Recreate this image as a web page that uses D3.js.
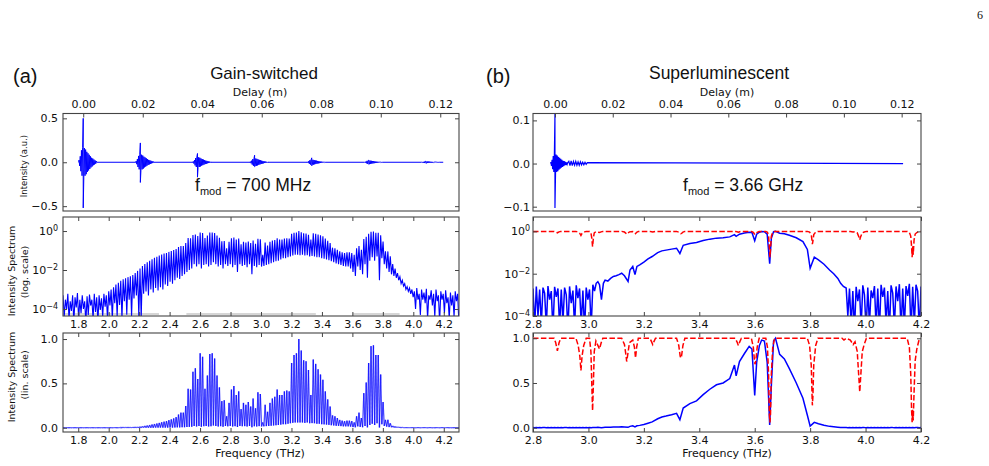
<!DOCTYPE html>
<html>
<head>
<meta charset="utf-8">
<script src="https://cdn.jsdelivr.net/npm/d3@7"></script>
<style>
  body { margin: 0; background: #fff; }
  svg { display: block; }
  text { font-family: "DejaVu Sans", sans-serif; fill: #111; }
  .arial { font-family: "Liberation Sans", Arial, sans-serif; }
</style>
</head>
<body>
<svg id="fig" width="989" height="466"></svg>
<script>
// ---------------- data ----------------

// ticks
const freqTicksA = [1.8, 2.0, 2.2, 2.4, 2.6, 2.8, 3.0, 3.2, 3.4, 3.6, 3.8, 4.0, 4.2];
const freqTicksB = [2.8, 3.0, 3.2, 3.4, 3.6, 3.8, 4.0, 4.2];
const delayTicks = [0, 0.02, 0.04, 0.06, 0.08, 0.10, 0.12];
const logTicks = [1, 1e-2, 1e-4];
const linTicks = [0, 0.5, 1.0];
const timeTicksA = [-0.5, 0, 0.5];
const timeTicksB = [-0.1, 0, 0.1];

// (a) gain-switched comb: one line every combStep THz from combStart
const combStart = 1.70, combStep = 0.0158;
const combPeak = [
  5e-4, 3e-4, 6e-4, 2.5e-4, 5e-4, 4e-4, 6.5e-4, 3e-4, 5e-4, 2.5e-4,
  4.5e-4, 5.5e-4, 3e-4, 6e-4, 4e-4, 5e-4, 3.5e-4, 6e-4, 5e-4, 8e-4,
  1e-3, 1.3e-3, 1.8e-3, 2.2e-3, 2.8e-3, 3.3e-3, 3.8e-3, 4.3e-3, 4.8e-3, 5.5e-3,
  7e-3, 9e-3, 0.012, 0.016, 0.02, 0.025, 0.03, 0.036, 0.042, 0.048,
  0.055, 0.062, 0.07, 0.075, 0.085, 0.095, 0.106, 0.12, 0.15,
  0.17, 0.17, 0.245, 0.44, 0.43, 0.63, 0.67, 0.55, 0.84, 0.80,
  0.44, 0.59, 0.83, 0.84, 0.78, 0.59, 0.455, 0.30, 0.31, 0.13,
  0.28, 0.43, 0.47, 0.37, 0.41, 0.21, 0.28, 0.26, 0.29, 0.24,
  0.33, 0.22, 0.40, 0.38, 0.06, 0.26, 0.18, 0.28, 0.33, 0.35,
  0.43, 0.37, 0.37, 0.41, 0.42, 0.41, 0.73, 0.82, 0.84, 1.0,
  0.87, 0.76, 0.75, 0.65, 0.37, 0.77, 0.72, 0.66, 0.60, 0.54,
  0.41, 0.32, 0.24, 0.14, 0.13, 0.11, 0.09, 0.08, 0.075, 0.08,
  0.08, 0.075, 0.06, 0.13, 0.17, 0.11, 0.39, 0.51, 0.73, 0.92,
  0.93, 0.82, 0.82, 0.60, 0.29, 0.09, 0.09, 0.05, 0.02,
  0.012, 0.007, 0.0045, 0.003, 0.002, 0.0014, 0.0012, 1e-3,
  8e-4, 1.2e-3, 6e-4, 1e-3, 7e-4, 1.1e-3, 5e-4, 9e-4, 6e-4, 1e-3,
  5e-4, 8e-4, 6e-4, 9e-4, 4e-4, 7e-4, 5e-4, 8e-4, 6e-4
];
// minima between neighbouring comb lines
const combDip = [
  4e-5, 1e-4, 3e-5, 8e-5, 2e-5, 1.2e-4, 3e-5, 6e-5, 1e-4, 2e-5,
  5e-5, 1.5e-4, 3e-5, 7e-5, 2e-5, 9e-5, 4e-5, 1.3e-4, 3e-5,
  1.5e-4, 3e-5, 2e-4, 4e-5, 1.6e-4, 3e-5, 2.5e-4, 5e-5, 3e-4, 4e-5, 3.5e-4,
  5e-4, 4e-5, 3e-5, 6e-4, 8e-4, 5e-4, 1e-3, 7e-4, 1.2e-3, 9e-4,
  1.3e-3, 1e-3, 1.8e-3, 1.5e-3, 2.5e-3, 2e-3, 3e-3, 4e-3, 3.5e-3,
  5e-3, 6e-3, 8e-3, 0.01, 0.012, 0.02, 0.015, 0.02, 0.012, 0.018,
  0.02, 0.015, 0.018, 0.025, 0.02, 0.015, 0.018, 0.012, 0.02, 0.016,
  0.02, 0.014, 0.018, 0.008, 0.02, 0.016, 0.018, 0.014, 0.02, 0.006,
  0.016, 0.014, 0.018, 0.015,
  0.016, 0.018, 0.02, 0.022, 0.025, 0.028, 0.03, 0.035, 0.04, 0.04,
  0.045, 0.05, 0.055, 0.06, 0.06, 0.058,
  0.06, 0.055, 0.058, 0.05, 0.052, 0.05, 0.045, 0.045, 0.04, 0.038,
  0.035, 0.032, 0.028,
  0.025, 0.022, 0.02, 0.018, 0.016, 0.015, 0.015, 0.012, 0.008, 0.005,
  0.015, 0.01,
  0.006, 0.02, 0.004, 0.03, 0.045, 0.03, 0.05, 0.003, 0.04, 0.02,
  0.012, 0.008, 0.006,
  0.005, 0.004, 0.003, 0.002, 0.0015, 0.001, 8e-4, 6e-4, 4e-4,
  1e-4, 3e-4, 5e-5, 3e-4, 2e-4, 3e-5, 3e-4, 1.5e-4, 4e-5, 2.5e-4,
  2e-5, 3e-4, 6e-5, 2e-4, 3e-5, 1.5e-4, 4e-5, 2.5e-4, 2e-5
];
// faint grey traces sitting on the floor of the log panel (THz ranges)
const gsFloor = [[1.70, 2.33], [2.51, 3.36], [3.60, 3.91]];

// (a) interferogram echoes
const gsEchoDelay = [0, 0.0192, 0.0384, 0.0576, 0.0768, 0.0960, 0.1152];
const gsEchoMax = [0.50, 0.22, 0.10, 0.08, 0.05, 0.025, 0.012];
const gsEchoMin = [-0.52, -0.23, -0.17, -0.05, -0.04, -0.025, -0.012];
const gsEchoBody = [0.17, 0.09, 0.06, 0.045, 0.03, 0.02, 0.01];
const gsTraceEnd = 0.121;
// shared echo shape (relative), sample offsets in m
const echoOffset = [-0.0014, -0.0012, -0.0010, -0.0008, -0.0006, -0.0004, -0.0002, 0,
  0.0002, 0.0004, 0.0006, 0.0008, 0.0010, 0.0012, 0.0014, 0.0016, 0.0018, 0.0020,
  0.0022, 0.0024, 0.0026, 0.0028, 0.0030, 0.0032, 0.0034, 0.0036, 0.0038, 0.0040,
  0.0042, 0.0044];
const echoShape = [0.15, -0.25, 0.4, -0.6, 0.8, -0.9, 1.0, 0, -1.0, 0.95, -0.9, 0.85,
  -0.8, 0.7, -0.65, 0.6, -0.55, 0.5, -0.45, 0.4, -0.35, 0.3, -0.28, 0.25, -0.2, 0.18,
  -0.15, 0.12, -0.1, 0.08];

// (b) superluminescent interferogram
const slMax = 0.115, slMin = -0.103, slBody = 0.022, slTraceEnd = 0.1205;
const slRingDelay = [0.0048, 0.0052, 0.0056, 0.0060, 0.0064, 0.0068, 0.0072, 0.0076,
  0.0080, 0.0084, 0.0088, 0.0092, 0.0096, 0.0100, 0.0104, 0.0108, 0.0112];
const slRingVal = [0.005, -0.005, 0.006, -0.005, 0.005, -0.004, 0.005, -0.004, 0.004,
  -0.004, 0.004, -0.003, 0.003, -0.003, 0.003, -0.002, 0.002];

// (b) spectrum (blue)
const slFreq = [
  2.800, 2.806, 2.812, 2.818, 2.824, 2.830, 2.836, 2.842, 2.848, 2.854,
  2.860, 2.866, 2.872, 2.878, 2.884, 2.890, 2.896, 2.902, 2.908, 2.914,
  2.920, 2.926, 2.932, 2.938, 2.944, 2.950, 2.956, 2.962, 2.968, 2.974,
  2.980, 2.986, 2.992, 2.998, 3.004, 3.010, 3.016, 3.022, 3.028, 3.034,
  3.040, 3.047, 3.054, 3.060, 3.070, 3.080, 3.090, 3.100, 3.110, 3.120,
  3.130, 3.143, 3.150, 3.160, 3.168, 3.175, 3.185, 3.200, 3.215, 3.230,
  3.250, 3.265, 3.280, 3.300, 3.318, 3.330, 3.342, 3.366, 3.390, 3.414,
  3.438, 3.462, 3.486, 3.510, 3.527, 3.533, 3.545, 3.563, 3.580, 3.590,
  3.600, 3.607, 3.617, 3.625, 3.635, 3.645, 3.654, 3.660, 3.668, 3.675,
  3.690, 3.707, 3.725, 3.750, 3.774, 3.790, 3.800, 3.815, 3.830, 3.850,
  3.870, 3.885, 3.900, 3.910, 3.920, 3.930,
  3.936, 3.942, 3.948, 3.954, 3.960, 3.966, 3.972, 3.978, 3.984, 3.990,
  3.996, 4.002, 4.008, 4.014, 4.020, 4.026, 4.032, 4.038, 4.044, 4.050,
  4.056, 4.062, 4.068, 4.074, 4.080, 4.086, 4.092, 4.098, 4.104, 4.110,
  4.116, 4.122, 4.128, 4.134, 4.140, 4.146, 4.152, 4.158, 4.164, 4.170,
  4.176, 4.182, 4.188, 4.194, 4.200
];
const slSpec = [
  2e-3, 3e-5, 2.5e-3, 1e-4, 1.8e-3, 4e-5, 2.2e-3, 1.2e-3, 3e-5, 2.6e-3,
  6e-4, 1.5e-3, 2e-5, 2.4e-3, 8e-4, 2e-3, 3e-5, 1.8e-3, 5e-5, 2.2e-3,
  1e-3, 2e-5, 2.5e-3, 4e-4, 1.6e-3, 3e-5, 2.8e-3, 7e-4, 2e-3, 4e-5,
  1.6e-3, 2e-5, 2.2e-3, 6e-4, 1.8e-3, 3e-5, 3e-3, 1.5e-3, 3.5e-3, 4.2e-3,
  3e-3, 6e-4, 3.5e-3, 5e-3, 4.5e-3, 6e-3, 7.4e-3, 8e-3, 9e-3, 1.05e-2,
  8e-3, 4.3e-3, 1.5e-2, 2.2e-2, 9e-3, 2.2e-2, 2.6e-2, 3.5e-2, 5e-2, 6.5e-2,
  0.10, 0.12, 0.13, 0.145, 0.16, 0.09, 0.22, 0.27, 0.30, 0.37,
  0.43, 0.48, 0.50, 0.55, 0.70, 0.58, 0.74, 0.83, 0.91, 0.88,
  0.36, 0.73, 0.92, 0.98, 0.97, 0.73, 0.03, 0.47, 0.97, 1.0,
  0.82, 0.77, 0.66, 0.50, 0.33, 0.14, 0.018, 0.06, 0.045, 0.028,
  0.015, 0.01, 0.006, 0.0035, 0.0025, 0.0021,
  1e-4, 2e-3, 3e-5, 1.5e-3, 2e-5, 2.4e-3, 5e-4, 1.8e-3, 3e-5, 2.8e-3,
  1e-3, 2e-5, 2.2e-3, 4e-5, 1.6e-3, 7e-4, 2.6e-3, 3e-5, 2e-3, 2e-5,
  3e-3, 8e-4, 2.2e-3, 4e-5, 1.5e-3, 2e-5, 2.8e-3, 1.2e-3, 3e-5, 2.5e-3,
  5e-4, 3.2e-3, 2e-5, 2e-3, 3e-5, 2.6e-3, 9e-4, 3.3e-3, 2e-5, 2.4e-3,
  4e-5, 3e-3, 1.5e-3, 2e-5, 2.5e-3
];

// (b) transmission (red dashed)
const trFreq = [
  2.800, 2.876, 2.882, 2.888, 2.894, 2.900,
  2.955, 2.963, 2.969, 2.973, 2.977, 2.983, 2.992,
  3.004, 3.009, 3.012, 3.015, 3.018, 3.021, 3.027, 3.034, 3.040, 3.046, 3.052,
  3.120, 3.130, 3.136, 3.138, 3.141, 3.148, 3.160, 3.166, 3.170, 3.174, 3.180,
  3.222, 3.228, 3.232, 3.236, 3.242,
  3.318, 3.326, 3.331, 3.333, 3.336, 3.341, 3.348,
  3.530, 3.536, 3.541, 3.546, 3.552,
  3.588, 3.595, 3.599, 3.601, 3.604, 3.609, 3.616,
  3.640, 3.646, 3.650, 3.653, 3.655, 3.657, 3.660, 3.665, 3.672,
  3.790, 3.798, 3.804, 3.807, 3.808, 3.810, 3.813, 3.820, 3.828,
  3.915, 3.922, 3.930, 3.945, 3.955, 3.962, 3.970, 3.976, 3.979, 3.982, 3.988, 3.995, 4.003,
  4.150, 4.158, 4.163, 4.166, 4.168, 4.170, 4.172, 4.175, 4.179, 4.185, 4.192, 4.200
];
const trVal = [
  1, 1, 0.95, 0.86, 0.95, 1,
  1, 0.92, 0.8, 0.64, 0.8, 0.92, 1,
  1, 0.85, 0.5, 0.19, 0.5, 0.85, 0.97, 0.92, 0.88, 0.95, 1,
  1, 0.93, 0.80, 0.74, 0.80, 0.95, 0.98, 0.9, 0.78, 0.9, 1,
  1, 0.96, 0.93, 0.96, 1,
  1, 0.92, 0.80, 0.78, 0.80, 0.92, 1,
  1, 0.96, 0.92, 0.96, 1,
  1, 0.9, 0.75, 0.71, 0.75, 0.9, 1,
  1, 0.9, 0.6, 0.15, 0.06, 0.15, 0.6, 0.9, 1,
  1, 0.92, 0.7, 0.35, 0.25, 0.35, 0.7, 0.92, 1,
  1, 0.98, 1, 0.98, 0.93, 0.96, 0.85, 0.55, 0.40, 0.55, 0.85, 0.93, 1,
  1, 0.9, 0.6, 0.2, 0.06, 0.2, 0.08, 0.4, 0.75, 0.88, 0.97, 1
];

// ---------------- layout ----------------
const svg = d3.select("#fig");
const frameColor = "#444";
const blue = "#0000ff", red = "#ff0000";

const colA = {x0: 63, x1: 459}, colB = {x0: 533, x1: 921};
const rowTop = {y0: 113.5, y1: 211}, rowLog = {y0: 217, y1: 316}, rowLin = {y0: 333, y1: 432};

// scales
const xFreqA = d3.scaleLinear().domain([1.7, 4.3]).range([colA.x0, colA.x1]);
const xFreqB = d3.scaleLinear().domain([2.8, 4.2]).range([colB.x0, colB.x1]);
const xDelayA = d3.scaleLinear().domain([-0.0068, 0.1263]).range([colA.x0, colA.x1]);
const xDelayB = d3.scaleLinear().domain([-0.0076, 0.1267]).range([colB.x0, colB.x1]);
const yTimeA = d3.scaleLinear().domain([-0.555, 0.555]).range([rowTop.y1, rowTop.y0]);
const yTimeB = d3.scaleLinear().domain([-0.110, 0.116]).range([rowTop.y1, rowTop.y0]);
const yLogA = d3.scaleLog().domain([Math.pow(10, -4.36), Math.pow(10, 0.72)]).range([rowLog.y1, rowLog.y0]);
const yLogB = d3.scaleLog().domain([1e-4, Math.pow(10, 0.68)]).range([rowLog.y1, rowLog.y0]);
const yLinA = d3.scaleLinear().domain([-0.048, 1.068]).range([rowLin.y1, rowLin.y0]);
const yLinB = d3.scaleLinear().domain([-0.048, 1.059]).range([rowLin.y1, rowLin.y0]);

let clipId = 0;
function panel(col, row) {
  const id = "clip" + (clipId++);
  svg.append("clipPath").attr("id", id).append("rect")
    .attr("x", col.x0).attr("y", row.y0)
    .attr("width", col.x1 - col.x0).attr("height", row.y1 - row.y0);
  const g = svg.append("g");
  const plot = g.append("g").attr("clip-path", "url(#" + id + ")");
  return {g: g, plot: plot, col: col, row: row};
}

function frame(p) {
  p.g.append("rect")
    .attr("x", p.col.x0).attr("y", p.row.y0)
    .attr("width", p.col.x1 - p.col.x0).attr("height", p.row.y1 - p.row.y0)
    .attr("fill", "none").attr("stroke", frameColor).attr("stroke-width", 1.1);
}

// ticks point inward (negative tick size)
function addAxis(p, axis, tx, ty, noLabels) {
  axis.tickSizeInner(-4).tickSizeOuter(0);
  if (noLabels) axis.tickFormat("");
  const a = p.g.append("g").attr("transform", "translate(" + tx + "," + ty + ")").call(axis);
  a.attr("font-family", null).attr("font-size", null);
  a.select(".domain").remove();
  a.selectAll(".tick line").attr("stroke", frameColor);
  a.selectAll(".tick text").attr("fill", "#111").style("font-size", "11px");
  return a;
}

function powLabels(a) {
  a.selectAll(".tick text").each(function (d) {
    const e = Math.round(Math.log10(d));
    const t = d3.select(this).text(null);
    t.append("tspan").text("10");
    t.append("tspan").attr("dy", "-0.5em").style("font-size", "8px").text(d3.format("d")(e));
  });
}

const f1 = d3.format(".1f"), f2 = d3.format(".2f");

// ---------------- (a) time domain ----------------
const pA1 = panel(colA, rowTop);
let gsTrace = [[echoOffset[0], 0]];
gsEchoDelay.forEach((d, k) => {
  gsTrace.push([d + echoOffset[0] - 0.0001, 0]);
  echoOffset.forEach((o, j) => {
    if (o === 0) {
      gsTrace.push([d, gsEchoMax[k]]);
      gsTrace.push([d, gsEchoMin[k]]);
    } else {
      gsTrace.push([d + o, gsEchoBody[k] * echoShape[j]]);
    }
  });
  gsTrace.push([d + echoOffset[echoOffset.length - 1] + 0.0001, 0]);
});
gsTrace.push([gsTraceEnd, 0]);

pA1.plot.append("path")
  .attr("d", d3.line().x(d => xDelayA(d[0])).y(d => yTimeA(d[1]))(gsTrace))
  .attr("fill", "none").attr("stroke", blue).attr("stroke-width", 1);
frame(pA1);
addAxis(pA1, d3.axisTop(xDelayA).tickValues(delayTicks).tickFormat(f2).tickPadding(6), 0, rowTop.y0);
addAxis(pA1, d3.axisLeft(yTimeA).tickValues(timeTicksA).tickFormat(f1).tickPadding(5), colA.x0, 0);
addAxis(pA1, d3.axisRight(yTimeA).tickValues(timeTicksA), colA.x1, 0, true);

// ---------------- (a) log spectrum ----------------
const gsPts = [];
combPeak.forEach((p, i) => {
  const f = combStart + combStep * i;
  gsPts.push([f, p]);
  gsPts.push([f + combStep / 2, combDip[i]]);
});

const pA2 = panel(colA, rowLog);
pA2.plot.selectAll(".floor").data(gsFloor).enter().append("line")
  .attr("x1", d => xFreqA(d[0])).attr("x2", d => xFreqA(d[1]))
  .attr("y1", rowLog.y1 - 2).attr("y2", rowLog.y1 - 2)
  .attr("stroke", "#c8c8c8").attr("stroke-width", 1.5);
pA2.plot.append("path")
  .attr("d", d3.line().x(d => xFreqA(d[0])).y(d => yLogA(d[1]))(gsPts))
  .attr("fill", "none").attr("stroke", blue).attr("stroke-width", 1.1);
frame(pA2);
addAxis(pA2, d3.axisBottom(xFreqA).tickValues(freqTicksA).tickFormat(f1).tickPadding(4), 0, rowLog.y1);
addAxis(pA2, d3.axisTop(xFreqA).tickValues(freqTicksA), 0, rowLog.y0, true);
powLabels(addAxis(pA2, d3.axisLeft(yLogA).tickValues(logTicks).tickPadding(5), colA.x0, 0));
addAxis(pA2, d3.axisRight(yLogA).tickValues(logTicks), colA.x1, 0, true);

// ---------------- (a) linear spectrum ----------------
const pA3 = panel(colA, rowLin);
// separate segments so overlapping strokes darken like the original
pA3.plot.selectAll(".seg").data(d3.pairs(gsPts)).enter().append("line")
  .attr("x1", d => xFreqA(d[0][0])).attr("y1", d => yLinA(d[0][1]))
  .attr("x2", d => xFreqA(d[1][0])).attr("y2", d => yLinA(d[1][1]))
  .attr("stroke", blue).attr("stroke-opacity", 0.7).attr("stroke-width", 1.3);
frame(pA3);
addAxis(pA3, d3.axisBottom(xFreqA).tickValues(freqTicksA).tickFormat(f1).tickPadding(4), 0, rowLin.y1);
addAxis(pA3, d3.axisTop(xFreqA).tickValues(freqTicksA), 0, rowLin.y0, true);
addAxis(pA3, d3.axisLeft(yLinA).tickValues(linTicks).tickFormat(f1).tickPadding(5), colA.x0, 0);
addAxis(pA3, d3.axisRight(yLinA).tickValues(linTicks), colA.x1, 0, true);

// ---------------- (b) time domain ----------------
const pB1 = panel(colB, rowTop);
let slTrace = [[echoOffset[0] - 0.0001, 0]];
echoOffset.forEach((o, j) => {
  if (o === 0) {
    slTrace.push([0, slMax]);
    slTrace.push([0, slMin]);
  } else {
    slTrace.push([o, slBody * echoShape[j]]);
  }
});
slRingDelay.forEach((d, i) => slTrace.push([d, slRingVal[i]]));
slTrace.push([slTraceEnd, 0]);

pB1.plot.append("path")
  .attr("d", d3.line().x(d => xDelayB(d[0])).y(d => yTimeB(d[1]))(slTrace))
  .attr("fill", "none").attr("stroke", blue).attr("stroke-width", 1.2);
frame(pB1);
addAxis(pB1, d3.axisTop(xDelayB).tickValues(delayTicks).tickFormat(f2).tickPadding(6), 0, rowTop.y0);
addAxis(pB1, d3.axisLeft(yTimeB).tickValues(timeTicksB).tickFormat(f1).tickPadding(3), colB.x0, 0);
addAxis(pB1, d3.axisRight(yTimeB).tickValues(timeTicksB), colB.x1, 0, true);

// ---------------- (b) spectra ----------------
const slPts = d3.zip(slFreq, slSpec);
const trPts = d3.zip(trFreq, trVal);

const pB2 = panel(colB, rowLog);
pB2.plot.append("path")
  .attr("d", d3.line().x(d => xFreqB(d[0])).y(d => yLogB(d[1]))(slPts))
  .attr("fill", "none").attr("stroke", blue).attr("stroke-width", 1.5);
pB2.plot.append("path")
  .attr("d", d3.line().x(d => xFreqB(d[0])).y(d => yLogB(d[1]))(trPts))
  .attr("fill", "none").attr("stroke", red).attr("stroke-width", 1.5)
  .attr("stroke-dasharray", "5.5,2.4");
frame(pB2);
addAxis(pB2, d3.axisBottom(xFreqB).tickValues(freqTicksB).tickFormat(f1).tickPadding(4), 0, rowLog.y1);
addAxis(pB2, d3.axisTop(xFreqB).tickValues(freqTicksB), 0, rowLog.y0, true);
powLabels(addAxis(pB2, d3.axisLeft(yLogB).tickValues(logTicks).tickPadding(3), colB.x0, 0));
addAxis(pB2, d3.axisRight(yLogB).tickValues(logTicks), colB.x1, 0, true);

const pB3 = panel(colB, rowLin);
pB3.plot.append("path")
  .attr("d", d3.line().x(d => xFreqB(d[0])).y(d => yLinB(d[1]))(slPts))
  .attr("fill", "none").attr("stroke", blue).attr("stroke-width", 1.5);
pB3.plot.append("path")
  .attr("d", d3.line().x(d => xFreqB(d[0])).y(d => yLinB(d[1]))(trPts))
  .attr("fill", "none").attr("stroke", red).attr("stroke-width", 1.5)
  .attr("stroke-dasharray", "5.5,2.4");
frame(pB3);
addAxis(pB3, d3.axisBottom(xFreqB).tickValues(freqTicksB).tickFormat(f1).tickPadding(4), 0, rowLin.y1);
addAxis(pB3, d3.axisTop(xFreqB).tickValues(freqTicksB), 0, rowLin.y0, true);
addAxis(pB3, d3.axisLeft(yLinB).tickValues(linTicks).tickFormat(f1).tickPadding(3), colB.x0, 0);
addAxis(pB3, d3.axisRight(yLinB).tickValues(linTicks), colB.x1, 0, true);

// ---------------- text ----------------
svg.append("text").attr("x", 980).attr("y", 19).attr("text-anchor", "middle")
  .style("font-family", "'Liberation Serif', serif").style("font-size", "12px").text("6");

svg.append("text").attr("class", "arial").attr("x", 13).attr("y", 83).style("font-size", "20px").text("(a)");
svg.append("text").attr("class", "arial").attr("x", 486).attr("y", 83).style("font-size", "20px").text("(b)");
svg.append("text").attr("class", "arial").attr("x", 264).attr("y", 79).attr("text-anchor", "middle")
  .style("font-size", "17px").text("Gain-switched");
svg.append("text").attr("class", "arial").attr("x", 719).attr("y", 79).attr("text-anchor", "middle")
  .style("font-size", "17.5px").text("Superluminescent");

[[260, "Delay (m)"], [727, "Delay (m)"]].forEach(d => {
  svg.append("text").attr("x", d[0]).attr("y", 96).attr("text-anchor", "middle")
    .style("font-size", "11px").text(d[1]);
});
[[260, "Frequency (THz)"], [727, "Frequency (THz)"]].forEach(d => {
  svg.append("text").attr("x", d[0]).attr("y", 457).attr("text-anchor", "middle")
    .style("font-size", "11px").text(d[1]);
});

function fmod(x, y, value) {
  const t = svg.append("text").attr("class", "arial").attr("x", x).attr("y", y).style("font-size", "17.5px");
  t.append("tspan").text("f");
  t.append("tspan").attr("dy", 4).style("font-size", "11px").text("mod");
  t.append("tspan").attr("dy", -4).text(" = " + value);
}
fmod(195, 191, "700 MHz");
fmod(683, 191, "3.66 GHz");

function yLabel(x, y, txt, size) {
  svg.append("text").attr("transform", "translate(" + x + "," + y + ") rotate(-90)")
    .attr("text-anchor", "middle").style("font-size", size + "px").text(txt);
}
yLabel(27, 166, "Intensity (a.u.)", 8.5);
yLabel(15, 271, "Intensity Spectrum", 9.5);
yLabel(28, 272, "(log. scale)", 9.5);
yLabel(15, 377, "Intensity Spectrum", 9.5);
yLabel(28, 375, "(lin. scale)", 9.5);
</script>
</body>
</html>
